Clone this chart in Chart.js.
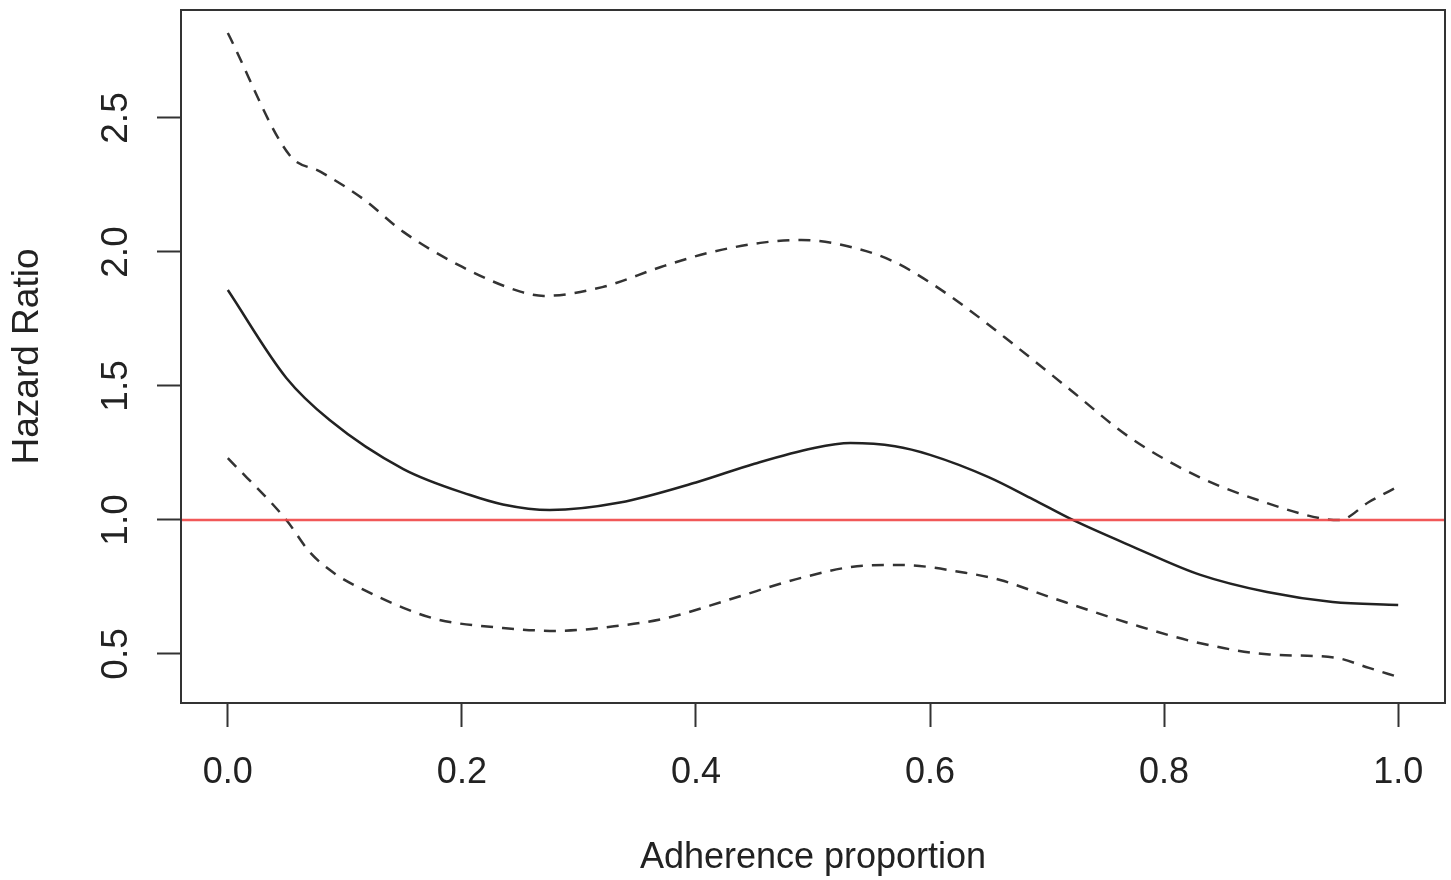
<!DOCTYPE html>
<html>
<head>
<meta charset="utf-8">
<script src="https://cdn.jsdelivr.net/npm/chart.js@4.4.0/dist/chart.umd.min.js"></script>
<style>
  html, body { margin: 0; padding: 0; background: #fff; }
  #wrap { width: 1451px; height: 880px; position: relative; }
</style>
</head>
<body>
<div id="wrap"><canvas id="hrChart"></canvas></div>
<script>
// axis ticks
var xTicks = [0, 0.2, 0.4, 0.6, 0.8, 1.0];
var yTicks = [0.5, 1.0, 1.5, 2.0, 2.5];
var xMin = -0.04, xMax = 1.04;
var yMin = 0.317, yMax = 2.903;
var refLine = 1.0; // HR = 1 reference

// estimated hazard ratio (solid)
var estX  = [0, 0.05, 0.087, 0.15, 0.207, 0.235, 0.275, 0.335, 0.4, 0.45, 0.5, 0.532, 0.57, 0.6, 0.65, 0.688, 0.722, 0.774, 0.831, 0.888, 0.944, 1.0];
var estHR = [1.858, 1.53, 1.373, 1.19, 1.093, 1.058, 1.037, 1.065, 1.14, 1.21, 1.268, 1.287, 1.275, 1.243, 1.16, 1.077, 1.0, 0.899, 0.795, 0.731, 0.694, 0.683];

// upper confidence limit (dashed)
var upperX  = [0, 0.053, 0.079, 0.115, 0.15, 0.2, 0.25, 0.27, 0.32, 0.37, 0.41, 0.455, 0.49, 0.54, 0.57, 0.6, 0.63, 0.67, 0.72, 0.77, 0.83, 0.89, 0.935, 0.95, 0.975, 1.0];
var upperHR = [2.817, 2.36, 2.3, 2.2, 2.075, 1.945, 1.852, 1.836, 1.869, 1.944, 1.996, 2.034, 2.045, 2.01, 1.962, 1.886, 1.795, 1.66, 1.485, 1.31, 1.16, 1.06, 1.005, 1.0, 1.067, 1.125];

// lower confidence limit (dashed)
var lowerX  = [0, 0.05, 0.07, 0.093, 0.115, 0.15, 0.18, 0.235, 0.28, 0.33, 0.375, 0.43, 0.49, 0.545, 0.575, 0.63, 0.66, 0.7, 0.775, 0.83, 0.89, 0.945, 0.975, 1.0];
var lowerHR = [1.231, 1.0, 0.88, 0.795, 0.742, 0.672, 0.628, 0.597, 0.586, 0.603, 0.634, 0.705, 0.784, 0.83, 0.832, 0.803, 0.776, 0.716, 0.608, 0.541, 0.498, 0.487, 0.448, 0.414];

function pts(xs, ys) {
  return xs.map(function (x, i) { return { x: x, y: ys[i] }; });
}

var FONT = "'Liberation Sans', Arial, Helvetica, sans-serif";
var INK = '#222';

// R-style frame: box, red reference line, rotated y tick labels
var rFrame = {
  id: 'rFrame',
  afterDatasetsDraw: function (chart) {
    var ctx = chart.ctx, a = chart.chartArea, ys = chart.scales.y;
    ctx.save();
    var py = ys.getPixelForValue(refLine);
    ctx.strokeStyle = 'rgba(240, 70, 70, 0.9)';
    ctx.lineWidth = 2.5;
    ctx.beginPath();
    ctx.moveTo(a.left, py);
    ctx.lineTo(a.right, py);
    ctx.stroke();

    ctx.strokeStyle = '#333';
    ctx.lineWidth = 2;
    ctx.strokeRect(a.left, a.top, a.right - a.left, a.bottom - a.top);

    ctx.fillStyle = INK;
    ctx.font = '37px ' + FONT;
    ctx.textAlign = 'center';
    ctx.textBaseline = 'middle';
    ys.ticks.forEach(function (t) {
      ctx.save();
      ctx.translate(117, ys.getPixelForValue(t.value));
      ctx.rotate(-Math.PI / 2);
      ctx.fillText(t.value.toFixed(1), 0, 0);
      ctx.restore();
    });
    ctx.restore();
  }
};

var tickGrid = {
  display: true,
  drawOnChartArea: false,
  drawTicks: true,
  tickLength: 24,
  tickWidth: 2,
  tickColor: '#333'
};

new Chart(document.getElementById('hrChart').getContext('2d'), {
  type: 'line',
  data: {
    datasets: [
      {
        label: 'Hazard ratio',
        data: pts(estX, estHR),
        borderColor: '#222',
        borderWidth: 2.5,
        pointRadius: 0,
        fill: false,
        cubicInterpolationMode: 'monotone'
      },
      {
        label: 'Upper 95% CI',
        data: pts(upperX, upperHR),
        borderColor: '#333',
        borderWidth: 2.5,
        borderDash: [12, 9],
        pointRadius: 0,
        fill: false,
        cubicInterpolationMode: 'monotone'
      },
      {
        label: 'Lower 95% CI',
        data: pts(lowerX, lowerHR),
        borderColor: '#333',
        borderWidth: 2.5,
        borderDash: [12, 9],
        pointRadius: 0,
        fill: false,
        cubicInterpolationMode: 'monotone'
      }
    ]
  },
  options: {
    responsive: true,
    maintainAspectRatio: false,
    animation: false,
    layout: { padding: { top: 10, right: 6, left: 0, bottom: 0 } },
    plugins: {
      legend: { display: false },
      tooltip: { enabled: false }
    },
    scales: {
      x: {
        type: 'linear',
        min: xMin,
        max: xMax,
        afterBuildTicks: function (axis) {
          axis.ticks = xTicks.map(function (v) { return { value: v }; });
        },
        afterFit: function (s) { s.height = 177; },
        grid: tickGrid,
        border: { display: false },
        ticks: {
          color: INK,
          padding: 24,
          maxRotation: 0,
          font: { family: FONT, size: 36 },
          callback: function (v) { return Number(v).toFixed(1); }
        },
        title: {
          display: true,
          text: 'Adherence proportion',
          color: INK,
          padding: { top: 0, bottom: 0 },
          font: { family: FONT, size: 36 }
        }
      },
      y: {
        type: 'linear',
        min: yMin,
        max: yMax,
        afterBuildTicks: function (axis) {
          axis.ticks = yTicks.map(function (v) { return { value: v }; });
        },
        afterFit: function (s) { s.width = 181; },
        grid: tickGrid,
        border: { display: false },
        ticks: { display: false },
        title: {
          display: true,
          text: 'Hazard Ratio',
          color: INK,
          padding: { top: 6, bottom: 0 },
          font: { family: FONT, size: 37 }
        }
      }
    }
  },
  plugins: [rFrame]
});
</script>
</body>
</html>
